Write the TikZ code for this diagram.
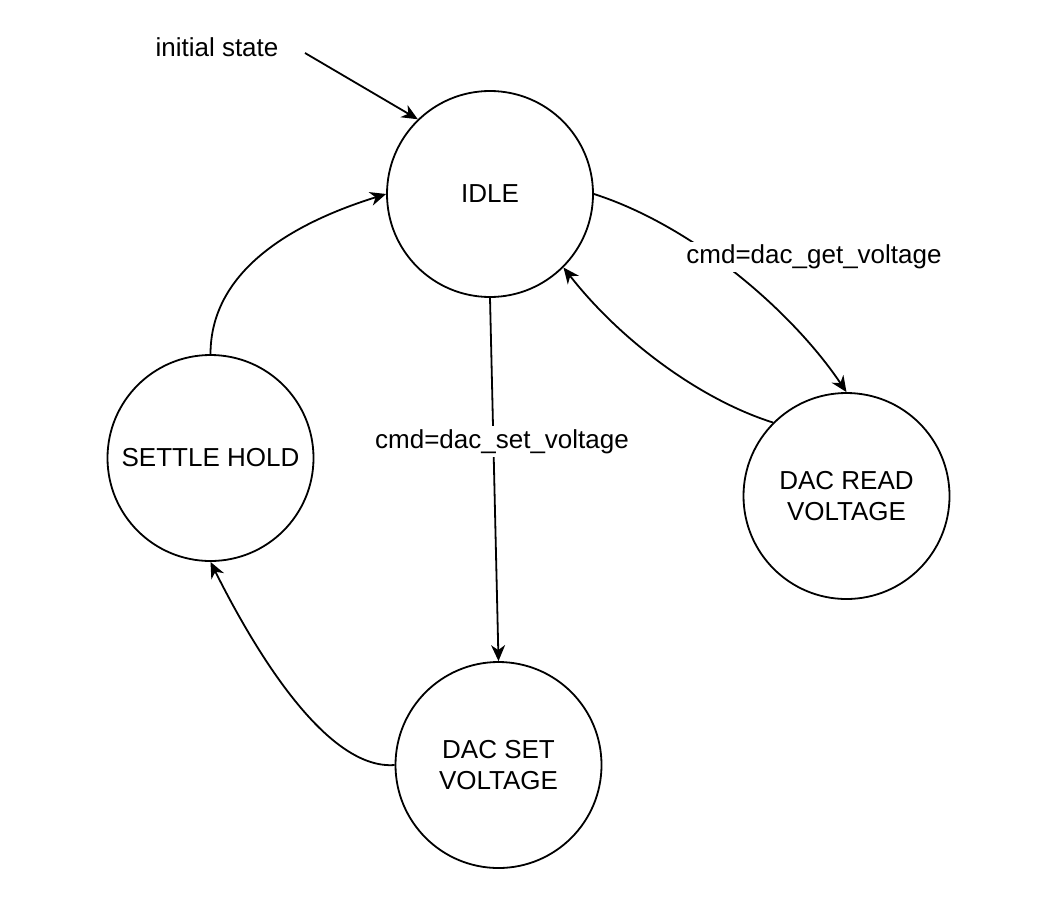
\documentclass[tikz,border=0pt]{standalone}
\usepackage{fontspec}
\setmainfont{Liberation Sans}
\usetikzlibrary{arrows.meta}
\begin{document}
\begin{tikzpicture}[x=1pt,y=-1pt,
  every node/.style={font=\fontsize{26}{31}\selectfont},
  state/.style={circle,draw,line width=1.8pt,minimum size=206pt,inner sep=0pt,align=center},
  arr/.style={line width=1.8pt,-{Stealth[length=16pt,width=14pt,inset=5pt]}},
  lbl/.style={fill=white,inner sep=3pt}]
\useasboundingbox (0,0) rectangle (1056,902);
\node[state] (idle) at (490,194) {IDLE};
\node[state] (settle) at (210.5,458) {SETTLE HOLD};
\node[state] (read) at (846.5,496) {DAC READ\\VOLTAGE};
\node[state] (set) at (498.5,765) {DAC SET\\VOLTAGE};
\node (init) at (217,47) {initial state};
\coordinate (initstart) at (305,53);
\draw[arr] (initstart) -- (idle.134);
\draw[arr] (settle.north) .. controls +(0,-96) and +(-67,21) .. (idle.west);
\draw[arr] (idle.east) .. controls +(97,31) and +(-56,-83) .. (read.north);
\draw[arr] (read.135) .. controls +(-73,-23) and +(57,73) .. (idle.-45);
\draw[arr] (idle.south) -- (set.north);
\draw[arr] (set.west) .. controls +(-65,5) and +(49.5,99) .. (settle.south);
\node[lbl] (getlbl) at (814,257) {cmd=dac\_get\_voltage};
\node[lbl] (setlbl) at (502,441.5) {cmd=dac\_set\_voltage};
\end{tikzpicture}
\end{document}
